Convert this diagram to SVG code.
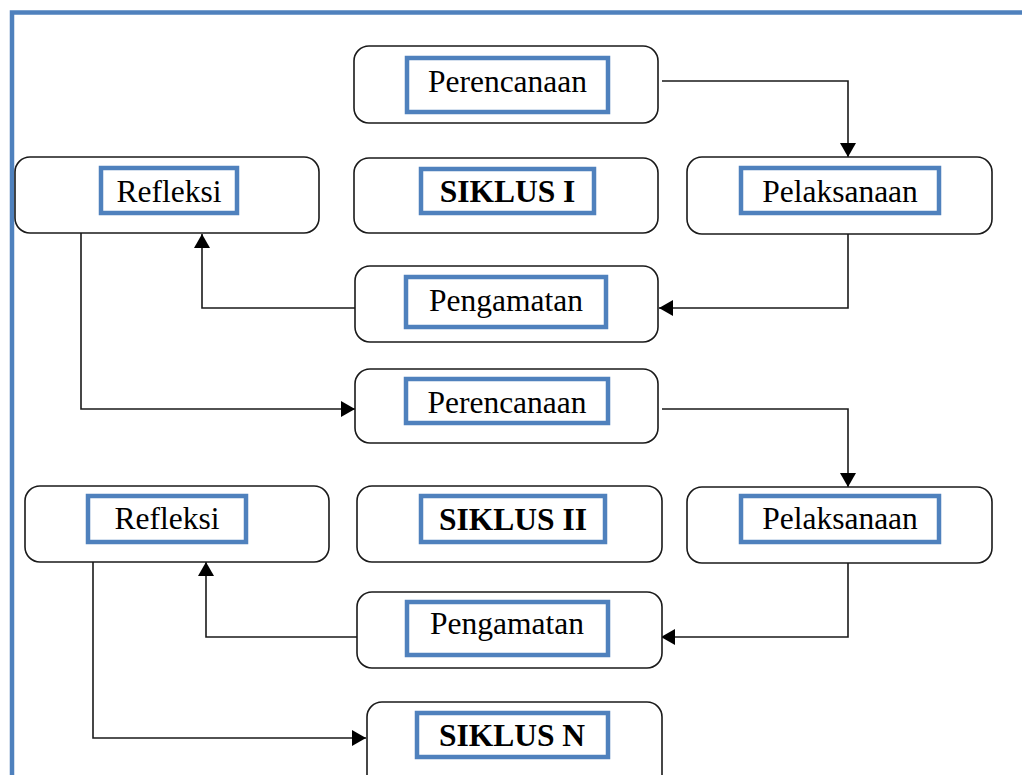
<svg xmlns="http://www.w3.org/2000/svg" width="1022" height="775" viewBox="0 0 1022 775">
<style>
.box{fill:#fff;stroke:#1a1a1a;stroke-width:1.6}
.lbl{fill:#fff;stroke:#4F81BD;stroke-width:4.5}
.t{font-family:"Liberation Serif","Times New Roman",serif;font-size:31.5px;fill:#000;text-anchor:middle}
.b{font-weight:bold}
.c{fill:none;stroke:#1a1a1a;stroke-width:1.6}
</style>
<defs>
<marker id="ah" viewBox="0 0 14 16" refX="14" refY="8" markerWidth="14" markerHeight="16" markerUnits="userSpaceOnUse" orient="auto">
<path d="M0,0 L14,8 L0,16 z" fill="#000"/>
</marker>
</defs>
<rect width="1022" height="775" fill="#fff"/>
<rect x="12" y="12.5" width="1040" height="800" fill="none" stroke="#4F81BD" stroke-width="4.5"/>
<g id="connectors">
<path class="c" d="M662,81 H848 V157" marker-end="url(#ah)"/>
<path class="c" d="M848,234 V308 H659" marker-end="url(#ah)"/>
<path class="c" d="M355,308 H202 V234" marker-end="url(#ah)"/>
<path class="c" d="M81,233 V409 H355" marker-end="url(#ah)"/>
<path class="c" d="M662,409 H848 V487" marker-end="url(#ah)"/>
<path class="c" d="M848,563 V637 H661" marker-end="url(#ah)"/>
<path class="c" d="M357,637 H206 V562" marker-end="url(#ah)"/>
<path class="c" d="M93,562 V738 H366" marker-end="url(#ah)"/>
</g>
<g id="perencanaan1">
<rect class="box" x="354" y="46" width="304" height="77" rx="15"/>
<rect class="lbl" x="407" y="58" width="201" height="54"/>
<text class="t" x="507.5" y="92">Perencanaan</text>
</g>
<g id="siklus1">
<rect class="box" x="354" y="158" width="304" height="75" rx="15"/>
<rect class="lbl" x="421" y="169" width="173" height="44"/>
<text class="t b" x="507.5" y="202">SIKLUS I</text>
</g>
<g id="refleksi1">
<rect class="box" x="15" y="157" width="304" height="76" rx="15"/>
<rect class="lbl" x="101" y="168" width="136" height="45"/>
<text class="t" x="169" y="202">Refleksi</text>
</g>
<g id="pelaksanaan1">
<rect class="box" x="687" y="157" width="305" height="77" rx="15"/>
<rect class="lbl" x="741" y="168" width="198" height="45"/>
<text class="t" x="840" y="202">Pelaksanaan</text>
</g>
<g id="pengamatan1">
<rect class="box" x="355" y="266" width="303" height="76" rx="15"/>
<rect class="lbl" x="406" y="277" width="200" height="50"/>
<text class="t" x="506" y="311">Pengamatan</text>
</g>
<g id="perencanaan2">
<rect class="box" x="355" y="369" width="303" height="74" rx="15"/>
<rect class="lbl" x="406" y="379" width="202" height="44"/>
<text class="t" x="507" y="413">Perencanaan</text>
</g>
<g id="refleksi2">
<rect class="box" x="25" y="486" width="304" height="76" rx="15"/>
<rect class="lbl" x="88" y="496" width="158" height="46"/>
<text class="t" x="167" y="529">Refleksi</text>
</g>
<g id="siklus2">
<rect class="box" x="357" y="486" width="305" height="76" rx="15"/>
<rect class="lbl" x="421" y="496" width="184" height="46"/>
<text class="t b" x="513" y="530">SIKLUS II</text>
</g>
<g id="pelaksanaan2">
<rect class="box" x="687" y="487" width="305" height="76" rx="15"/>
<rect class="lbl" x="741" y="496" width="198" height="46"/>
<text class="t" x="840" y="529">Pelaksanaan</text>
</g>
<g id="pengamatan2">
<rect class="box" x="357" y="592" width="305" height="76" rx="15"/>
<rect class="lbl" x="407" y="602" width="201" height="53"/>
<text class="t" x="507" y="634">Pengamatan</text>
</g>
<g id="siklusN">
<rect class="box" x="367" y="702" width="295" height="90" rx="15"/>
<rect class="lbl" x="417" y="713" width="191" height="44"/>
<text class="t b" x="512" y="746">SIKLUS N</text>
</g>
</svg>
